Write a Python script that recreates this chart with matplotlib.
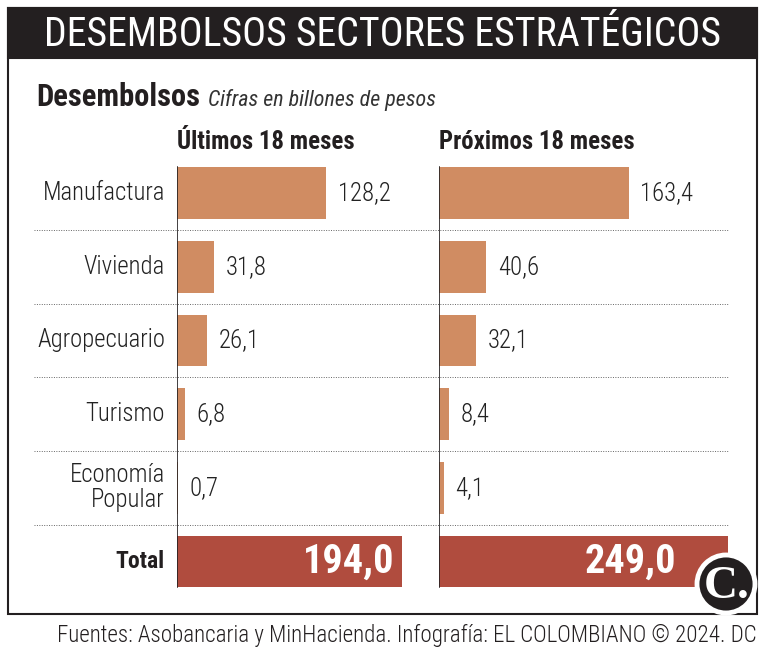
import matplotlib
matplotlib.use("Agg")
import matplotlib.pyplot as plt
from matplotlib import font_manager
from matplotlib.patches import Rectangle, Circle

# fuente condensada si existe
names = set(f.name for f in font_manager.fontManager.ttflist)
fam = "Roboto"
for cand in ["Roboto Condensed", "Liberation Sans Narrow", "Open Sans Condensed", "Roboto"]:
    if cand in names:
        fam = cand
        break
narrow = fam != "Roboto"
f = 1.0 if narrow else 0.88
plt.rcParams["font.family"] = [fam, "DejaVu Sans"]

# datos
categorias = ["Manufactura", "Vivienda", "Agropecuario", "Turismo", "Economía\nPopular"]
ultimos = [128.2, 31.8, 26.1, 6.8, 0.7]
proximos = [163.4, 40.6, 32.1, 8.4, 4.1]
total_ultimos = 194.0
total_proximos = 249.0
col_titulos = ["Últimos 18 meses", "Próximos 18 meses"]

naranja = "#d08c62"
rojo = "#b04c3e"
oscuro = "#231f20"

W, H = 765, 654
fig = plt.figure(figsize=(W / 100, H / 100), dpi=100)

# capa de fondo en pixeles
bg = fig.add_axes([0, 0, 1, 1])
bg.set_xlim(0, W)
bg.set_ylim(H, 0)
bg.axis("off")

bg.add_patch(Rectangle((8, 8), 749, 606, facecolor="white", edgecolor=oscuro, lw=1.5, zorder=0))
bg.add_patch(Rectangle((8, 8), 749, 50, facecolor=oscuro, edgecolor=oscuro, lw=1.5, zorder=1))
bg.text(383, 34, "DESEMBOLSOS SECTORES ESTRATÉGICOS", color="white", fontsize=28.7 * f,
        ha="center", va="center", zorder=2)

bg.text(36, 97, "Desembolsos", fontsize=22 * f, fontweight="bold",
        color=oscuro, ha="left", va="center")
bg.text(208, 100, "Cifras en billones de pesos", fontsize=15.8 * f,
        style="italic", color="#333333", ha="left", va="center")

fila0, paso = 193, 73.7
for i in range(5):
    y = fila0 + paso * (i + 0.5)
    bg.plot([34, 728], [y, y], ls=(0, (1, 1.5)), color="#666666", lw=0.7)

bg.text(W - 8, 635, "Fuentes: Asobancaria y MinHacienda. Infografía: EL COLOMBIANO © 2024. DC",
        fontsize=16.6 * f, fontweight="light", color=oscuro, ha="right", va="center")

lsize = 17.8 * f
for i, c in enumerate(categorias):
    bg.text(165, fila0 + paso * i, c, fontsize=lsize, fontweight="light", color="#222222",
            ha="right", va="center", linespacing=1.05)
bg.text(165, fila0 + paso * 5, "Total", fontsize=17 * f, fontweight="bold", color=oscuro,
        ha="right", va="center")

# paneles
escala = 1.162  # px por unidad
top, bottom = 156.2, 598.4
paneles = [(177, 420, ultimos, total_ultimos, 8), (439, 757, proximos, total_proximos, 52)]
for k, (x0, x1, vals, tot, pad) in enumerate(paneles):
    ax = fig.add_axes([x0 / W, (H - bottom) / H, (x1 - x0) / W, (bottom - top) / H])
    ax.patch.set_alpha(0)
    ax.set_xlim(0, (x1 - x0) / escala)
    ax.set_ylim(5.5, -0.5)
    ax.axis("off")
    ax.barh(range(5), vals, height=0.7, color=naranja)
    ax.barh(5, tot, height=0.7, color=rojo)
    ax.plot([0, 0], [-0.35, 5.35], color=oscuro, lw=1.2)
    for i, v in enumerate(vals):
        ax.text(v + 10, i, f"{v:.1f}".replace(".", ","), fontsize=lsize, fontweight="light",
                color="#222222", ha="left", va="center")
    ax.text(tot - pad / escala, 5, f"{tot:.1f}".replace(".", ","), fontsize=29 * f,
            fontweight="bold", color="white", ha="right", va="center")
    ax.text(0, -0.69, col_titulos[k], fontsize=17.8 * f, fontweight="bold",
            color=oscuro, ha="left", va="center")

# logo
lg = fig.add_axes([0, 0, 1, 1])
lg.set_xlim(0, W)
lg.set_ylim(H, 0)
lg.axis("off")
lg.add_patch(Circle((726, 584), 29, facecolor=oscuro, edgecolor="white", lw=3.5))
lg.text(727, 587, "C.", fontsize=34, fontweight="bold", family="Liberation Serif",
        color="white", ha="center", va="center")

fig.savefig("out.png", dpi=100)
